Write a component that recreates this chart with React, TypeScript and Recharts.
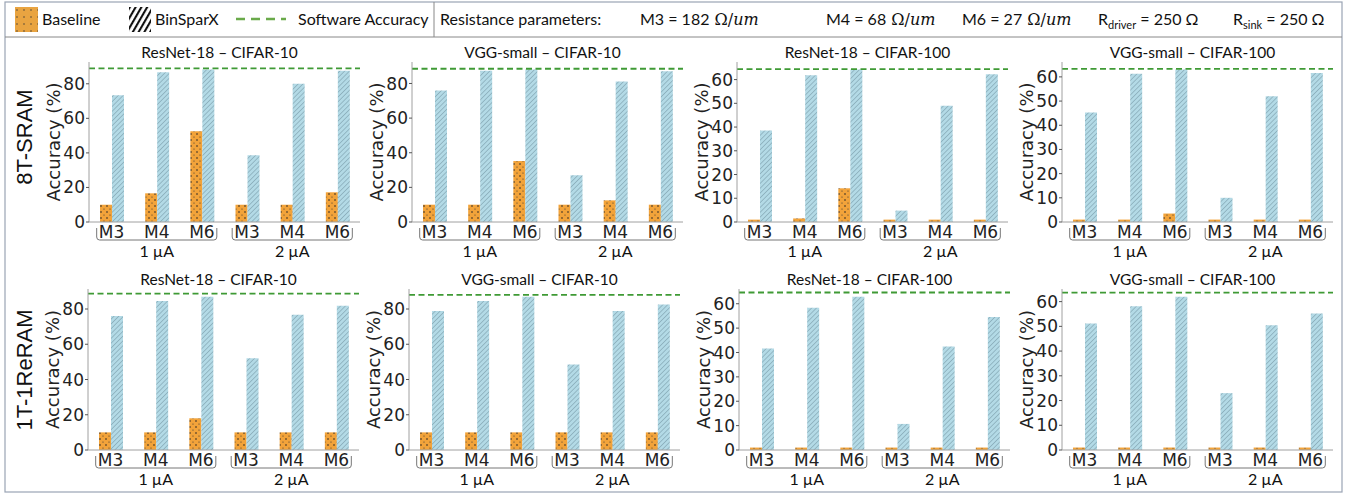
import React from 'react';
import { BarChart, Bar, XAxis, YAxis, ReferenceLine } from 'recharts';

// x categories
const metals = ['M3', 'M4', 'M6', 'M3', 'M4', 'M6'];
const currents = ['1 µA', '1 µA', '1 µA', '2 µA', '2 µA', '2 µA'];

const ticks10 = [0, 20, 40, 60, 80];
const ticks100 = [0, 10, 20, 30, 40, 50, 60];

// 8T-SRAM
const sramResnet10Base = [10, 16.6, 52.5, 10, 10, 17.2];
const sramResnet10Bin = [73.4, 86.7, 88.2, 38.7, 80, 87.5];
const sramResnet10Sw = 88.9;

const sramVgg10Base = [10, 10, 35.2, 10, 12.5, 10];
const sramVgg10Bin = [76, 87.3, 88, 27, 81.2, 87];
const sramVgg10Sw = 88.5;

const sramResnet100Base = [1, 1.5, 14.2, 1, 1, 1];
const sramResnet100Bin = [38.6, 61.8, 64.2, 4.8, 49, 62.3];
const sramResnet100Sw = 64.4;

const sramVgg100Base = [1, 1, 3.5, 1, 1, 1];
const sramVgg100Bin = [45.3, 61.3, 63, 10, 52, 61.6];
const sramVgg100Sw = 63.3;

// 1T-1ReRAM
const reramResnet10Base = [10, 10, 18, 10, 10, 10];
const reramResnet10Bin = [76, 84.6, 87, 52, 76.8, 81.8];
const reramResnet10Sw = 88.7;

const reramVgg10Base = [10, 10, 10, 10, 10, 10];
const reramVgg10Bin = [78.8, 84.5, 87, 48.5, 78.8, 82.5];
const reramVgg10Sw = 88;

const reramResnet100Base = [1, 1, 1, 1, 1, 1];
const reramResnet100Bin = [41.6, 58.4, 62.9, 10.7, 42.5, 54.6];
const reramResnet100Sw = 64.6;

const reramVgg100Base = [1, 1, 1, 1, 1, 1];
const reramVgg100Bin = [51.2, 58.1, 62, 23, 50.4, 55.2];
const reramVgg100Sw = 63.6;

const panels = [
  { title: 'ResNet-18 – CIFAR-10', base: sramResnet10Base, bin: sramResnet10Bin, sw: sramResnet10Sw, ticks: ticks10 },
  { title: 'VGG-small – CIFAR-10', base: sramVgg10Base, bin: sramVgg10Bin, sw: sramVgg10Sw, ticks: ticks10 },
  { title: 'ResNet-18 – CIFAR-100', base: sramResnet100Base, bin: sramResnet100Bin, sw: sramResnet100Sw, ticks: ticks100 },
  { title: 'VGG-small – CIFAR-100', base: sramVgg100Base, bin: sramVgg100Bin, sw: sramVgg100Sw, ticks: ticks100 },
  { title: 'ResNet-18 – CIFAR-10', base: reramResnet10Base, bin: reramResnet10Bin, sw: reramResnet10Sw, ticks: ticks10 },
  { title: 'VGG-small – CIFAR-10', base: reramVgg10Base, bin: reramVgg10Bin, sw: reramVgg10Sw, ticks: ticks10 },
  { title: 'ResNet-18 – CIFAR-100', base: reramResnet100Base, bin: reramResnet100Bin, sw: reramResnet100Sw, ticks: ticks100 },
  { title: 'VGG-small – CIFAR-100', base: reramVgg100Base, bin: reramVgg100Bin, sw: reramVgg100Sw, ticks: ticks100 },
];

// layout
const PW = 271;
const COLS = [
  [89, 412, 737, 1062],
  [88, 409, 739, 1062],
];
const ROW_TOP = [62, 289];
const ROW_H = [160, 161];
const YW = 50;
const MT = 8;
const MR = 4;
const XH = 46;

const calibri = 'Lato, "Open Sans", sans-serif';
const dejavu = '"DejaVu Sans", sans-serif';

function MetalTick(props: any) {
  const { x, y, payload } = props;
  const i = props.index ?? payload.index;
  const bw = PW / 6;
  const h = bw * 1.33;
  return (
    <g>
      <text x={x} y={y + 16} textAnchor="middle" fontSize={17} fontFamily={dejavu} fill="#222">
        {payload.value}
      </text>
      {i % 3 === 1 && (
        <>
          <path
            d={`M${x - h},${y + 6} L${x - h},${y + 15} Q${x - h},${y + 18} ${x - h + 3},${y + 18} L${x + h - 3},${y + 18} Q${x + h},${y + 18} ${x + h},${y + 15} L${x + h},${y + 6}`}
            fill="none"
            stroke="#777"
            strokeWidth={1}
          />
          <text x={x} y={y + 35} textAnchor="middle" fontSize={16} fontFamily={calibri} fill="#111">
            {currents[i]}
          </text>
        </>
      )}
    </g>
  );
}

const yLabel = (props: any) => {
  const vb = props.viewBox;
  const cx = vb.x + 14;
  const cy = vb.y + vb.height / 2;
  return (
    <text
      x={cx}
      y={cy}
      transform={`rotate(-90 ${cx} ${cy})`}
      textAnchor="middle"
      dominantBaseline="central"
      fontSize={18}
      fontFamily={dejavu}
      fill="#222"
    >
      Accuracy (%)
    </text>
  );
};

function Panel({ p, left, top, ph }: any) {
  const data = metals.map((m, i) => ({
    metal: m,
    current: currents[i],
    baseline: p.base[i],
    binsparx: p.bin[i],
  }));
  const yMax = Math.max(...p.bin, ...p.base) * 1.05;
  return (
    <>
      <div
        style={{
          position: 'absolute',
          left: left - 5,
          width: PW,
          top: top - 19,
          textAlign: 'center',
          fontFamily: calibri,
          fontSize: 15.5,
          lineHeight: '18px',
          color: '#111',
          whiteSpace: 'nowrap',
        }}
      >
        {p.title}
      </div>
      <div style={{ position: 'absolute', left: left - YW, top: top - MT }}>
        <BarChart
          width={YW + PW + MR}
          height={MT + ph + XH}
          data={data}
          margin={{ top: MT, right: MR, left: 0, bottom: 0 }}
          barGap={0}
          barSize={12}
        >
          <XAxis
            dataKey="metal"
            interval={0}
            tickSize={0}
            tickMargin={0}
            height={XH}
            tick={<MetalTick />}
            axisLine={{ stroke: '#a0a0a0' }}
          />
          <XAxis
            xAxisId="top"
            orientation="top"
            dataKey="metal"
            height={0}
            tick={false}
            tickLine={false}
            axisLine={{ stroke: '#a0a0a0' }}
          />
          <YAxis
            domain={[0, yMax]}
            ticks={p.ticks}
            interval={0}
            width={YW}
            tickSize={3}
            tickMargin={1}
            tick={{ fontSize: 17, fontFamily: dejavu, fill: '#222' }}
            axisLine={{ stroke: '#a0a0a0' }}
            tickLine={{ stroke: '#555' }}
            label={yLabel}
          />
          <YAxis
            yAxisId="frame"
            orientation="right"
            width={0}
            domain={[0, yMax]}
            tick={false}
            tickLine={false}
            axisLine={{ stroke: '#a0a0a0' }}
          />
          <Bar dataKey="baseline" fill="url(#dots)" isAnimationActive={false} />
          <Bar dataKey="binsparx" fill="url(#hatch)" isAnimationActive={false} />
          <ReferenceLine y={p.sw} stroke="#3f9a35" strokeDasharray="6 3.5" strokeWidth={1.8} />
        </BarChart>
      </div>
    </>
  );
}

function Header() {
  const ty = 25;
  const txt = { fontFamily: calibri, fontSize: 16, fill: '#111' } as const;
  const unit = (
    <>
      <tspan fontFamily='"DejaVu Serif", serif'>  Ω/</tspan>
      <tspan fontFamily='"DejaVu Serif", serif' fontStyle="italic">um</tspan>
    </>
  );
  return (
    <svg width={1347} height={493} style={{ position: 'absolute', left: 0, top: 0 }}>
      <defs>
        <pattern id="dots" width="6" height="6" patternUnits="userSpaceOnUse">
          <rect width="6" height="6" fill="#F2A33A" />
          <circle cx="2" cy="2" r="0.8" fill="#222" />
          <circle cx="5" cy="5" r="0.6" fill="#333" />
        </pattern>
        <pattern id="hatch" width="3.4" height="3.4" patternUnits="userSpaceOnUse" patternTransform="rotate(45)">
          <rect width="3.4" height="3.4" fill="#B3DAE6" />
          <line x1="0" y1="0" x2="0" y2="3.4" stroke="#668896" strokeWidth="0.85" />
        </pattern>
        <pattern id="dotsLegend" width="7" height="7" patternUnits="userSpaceOnUse">
          <rect width="7" height="7" fill="#E9A441" />
          <circle cx="3" cy="3" r="0.7" fill="#333" />
        </pattern>
        <pattern id="hatchLegend" width="5" height="5" patternUnits="userSpaceOnUse" patternTransform="rotate(30)">
          <rect width="5" height="5" fill="#fff" />
          <line x1="1" y1="0" x2="1" y2="5" stroke="#111" strokeWidth="2.2" />
        </pattern>
      </defs>

      {/* frame */}
      <rect x={5} y={2} width={1337} height={490} fill="none" stroke="#9aa4b4" strokeWidth={1.2} />
      <line x1={5} y1={37} x2={1342} y2={37} stroke="#888" strokeWidth={1} />
      <line x1={434} y1={2} x2={434} y2={37} stroke="#888" strokeWidth={1} />

      {/* legend */}
      <rect x={15} y={7} width={23} height={25} fill="url(#dotsLegend)" />
      <text x={42} y={ty} {...txt}>Baseline</text>
      <rect x={129} y={7} width={22} height={25} fill="url(#hatchLegend)" />
      <text x={155} y={ty} {...txt}>BinSparX</text>
      <line x1={236} y1={19} x2={286} y2={19} stroke="#6aaa4a" strokeWidth={2.5} strokeDasharray="9 6" />
      <text x={298} y={ty} {...txt}>Software Accuracy</text>

      <text x={440} y={ty} {...txt}>Resistance parameters:</text>
      <text x={640} y={ty} {...txt}>M3 = 182{unit}</text>
      <text x={826} y={ty} {...txt}>M4 = 68{unit}</text>
      <text x={962} y={ty} {...txt}>M6 = 27{unit}</text>
      <text x={1098} y={ty} {...txt}>
        R<tspan fontSize={11} dy={4}>driver</tspan>
        <tspan dy={-4}> = 250 Ω</tspan>
      </text>
      <text x={1233} y={ty} {...txt}>
        R<tspan fontSize={11} dy={4}>sink</tspan>
        <tspan dy={-4}> = 250 Ω</tspan>
      </text>

      {/* row labels */}
      <text
        x={24}
        y={137}
        transform="rotate(-90 24 137)"
        textAnchor="middle"
        dominantBaseline="central"
        fontSize={22}
        fontFamily='"Liberation Sans", Arial, sans-serif'
        fill="#111"
      >
        8T-SRAM
      </text>
      <text
        x={24}
        y={370}
        transform="rotate(-90 24 370)"
        textAnchor="middle"
        dominantBaseline="central"
        fontSize={22}
        fontFamily='"Liberation Sans", Arial, sans-serif'
        fill="#111"
      >
        1T-1ReRAM
      </text>
    </svg>
  );
}

export default function App() {
  return (
    <div style={{ position: 'absolute', left: 0, top: 0, width: 1347, height: 493, background: '#fff', overflow: 'hidden' }}>
      <Header />
      {panels.map((p, k) => {
        const row = Math.floor(k / 4);
        const col = k % 4;
        return <Panel key={k} p={p} left={COLS[row][col]} top={ROW_TOP[row]} ph={ROW_H[row]} />;
      })}
    </div>
  );
}
